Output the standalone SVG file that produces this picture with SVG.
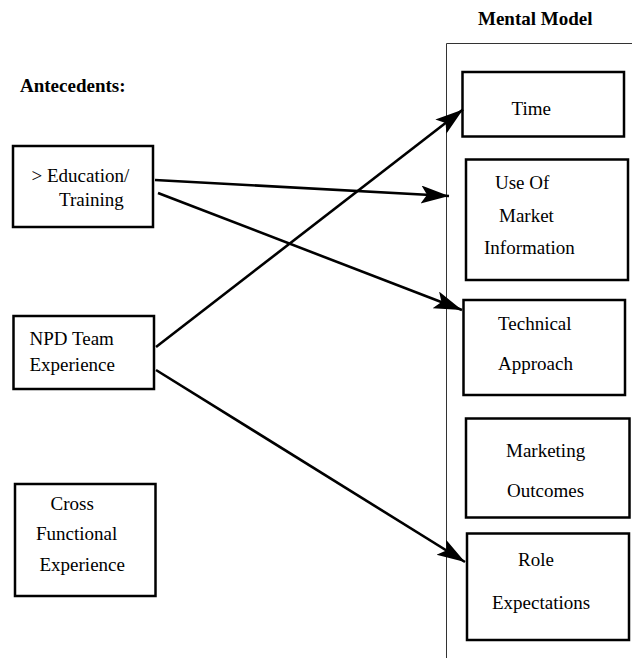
<svg xmlns="http://www.w3.org/2000/svg" width="632" height="658" viewBox="0 0 632 658">
  <style>
    .box { fill: #ffffff; stroke: #000000; stroke-width: 2.5; }
    .t { font-family: "Liberation Serif", "Times New Roman", serif; font-size: 19px; fill: #000000; }
    .b { font-family: "Liberation Serif", "Times New Roman", serif; font-size: 19px; font-weight: bold; fill: #000000; }
    .frame { fill: none; stroke: #333333; stroke-width: 1; }
    .conn { fill: none; stroke: #000000; stroke-width: 2.6; }
  </style>
  <defs>
    <marker id="arrow" markerUnits="userSpaceOnUse" markerWidth="30" markerHeight="20" refX="28" refY="9" orient="auto">
      <path d="M0,0 L28,9 L0,18 L6,9 z" fill="#000000"/>
    </marker>
  </defs>
  <rect width="632" height="658" fill="#ffffff"/>

  <g id="headings">
    <text class="b" x="478" y="25">Mental Model</text>
    <text class="b" x="20" y="92">Antecedents:</text>
  </g>

  <g id="mental-model-frame">
    <polyline class="frame" points="632,43.5 446.5,43.5 446.5,658"/>
  </g>

  <g id="education-training">
    <rect class="box" x="13" y="146" width="140" height="81"/>
    <text class="t" x="31.5" y="181.5">&gt; Education/</text>
    <text class="t" x="59" y="206">Training</text>
  </g>

  <g id="npd-team-experience">
    <rect class="box" x="13.5" y="316" width="140.5" height="73"/>
    <text class="t" x="29.5" y="345">NPD Team</text>
    <text class="t" x="29.5" y="370.5">Experience</text>
  </g>

  <g id="cross-functional-experience">
    <rect class="box" x="15" y="484" width="140.5" height="112"/>
    <text class="t" x="50.5" y="510">Cross</text>
    <text class="t" x="36" y="540">Functional</text>
    <text class="t" x="39.5" y="570.5">Experience</text>
  </g>

  <g id="time">
    <rect class="box" x="462.5" y="72" width="161.5" height="64.5"/>
    <text class="t" x="511.5" y="115">Time</text>
  </g>

  <g id="use-of-market-information">
    <rect class="box" x="466" y="159.5" width="162" height="120.5"/>
    <text class="t" x="495" y="188.5">Use Of</text>
    <text class="t" x="499" y="221.5">Market</text>
    <text class="t" x="484" y="253.5">Information</text>
  </g>

  <g id="technical-approach">
    <rect class="box" x="463.5" y="300" width="161.5" height="95"/>
    <text class="t" x="498" y="330">Technical</text>
    <text class="t" x="498" y="370">Approach</text>
  </g>

  <g id="marketing-outcomes">
    <rect class="box" x="466" y="418.5" width="163.5" height="99"/>
    <text class="t" x="506" y="456.5">Marketing</text>
    <text class="t" x="507" y="496.5">Outcomes</text>
  </g>

  <g id="role-expectations">
    <rect class="box" x="467" y="533.5" width="162" height="106.5"/>
    <text class="t" x="518" y="566">Role</text>
    <text class="t" x="492" y="608.5">Expectations</text>
  </g>

  <g id="connectors">
    <line class="conn" x1="155" y1="180" x2="449" y2="196" marker-end="url(#arrow)"/>
    <line class="conn" x1="158" y1="193" x2="462" y2="310" marker-end="url(#arrow)"/>
    <line class="conn" x1="156" y1="347" x2="463" y2="109.5" marker-end="url(#arrow)"/>
    <line class="conn" x1="156" y1="370" x2="465" y2="562" marker-end="url(#arrow)"/>
  </g>
</svg>
